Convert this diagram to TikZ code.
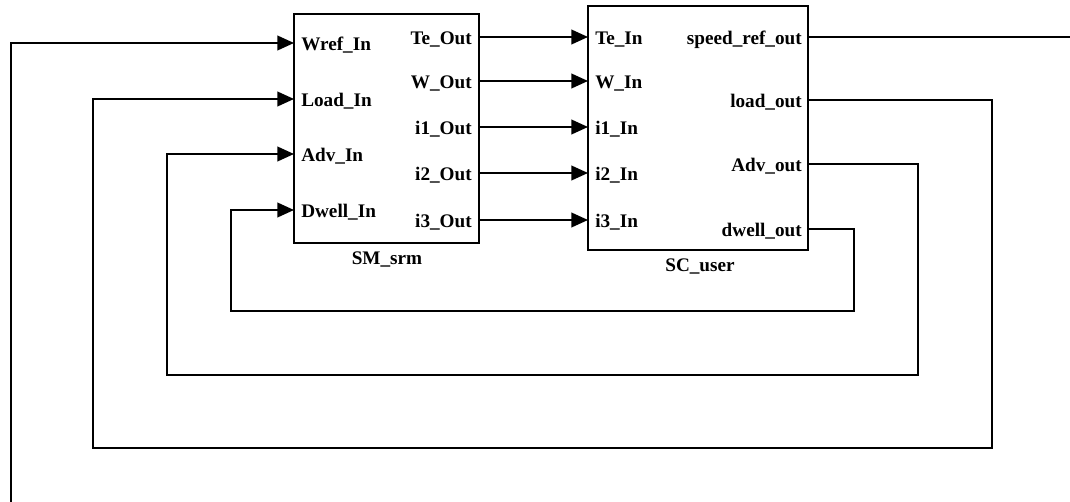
\documentclass[tikz,border=0pt]{standalone}
\usepackage{fontspec}
\setmainfont{Liberation Serif}
\usetikzlibrary{arrows.meta}
\tikzset{
  blk/.style={draw,line width=1.4pt,anchor=north west,inner sep=0pt,outer sep=0pt},
  sig/.style={line width=1.4pt},
  arr/.style={sig,-{Triangle[length=12.5pt,width=11pt]}},
  port/.style={font=\fontsize{14.4}{16}\selectfont\bfseries,inner sep=0pt},
}
\begin{document}
\begin{tikzpicture}[x=.75pt,y=-.75pt]
  \useasboundingbox (0,0) rectangle (1070,502);
  % blocks
  \node[blk,minimum width=138.75pt,minimum height=171.75pt] (sm) at (294,14) {};
  \node[blk,minimum width=165pt,minimum height=183pt] (sc) at (588,6) {};
  \node[port,anchor=base] (smcap) at (387,265) {SM\_srm};
  \node[port,anchor=base] (sccap) at (700,272) {SC\_user};
  % ports
  \foreach \y [count=\i] in {43,99,154,210}
    \coordinate (smi\i) at (294,\y);
  \foreach \y [count=\i] in {37,81,127,173,220} {
    \coordinate (smo\i) at (479,\y);
    \coordinate (sci\i) at (588,\y);
  }
  \foreach \y [count=\i] in {37,100,164,229}
    \coordinate (sco\i) at (808,\y);
  % port labels
  \foreach \t [count=\i] in {Wref\_In,Load\_In,Adv\_In,Dwell\_In}
    \node[port,anchor=base west] (smil\i) at ([shift={(7,8)}]smi\i) {\t};
  \foreach \t [count=\i] in {Te\_Out,W\_Out,i1\_Out,i2\_Out,i3\_Out}
    \node[port,anchor=base east] (smol\i) at ([shift={(-7,8)}]smo\i) {\t};
  \foreach \t [count=\i] in {Te\_In,W\_In,i1\_In,i2\_In,i3\_In}
    \node[port,anchor=base west] (scil\i) at ([shift={(7,8)}]sci\i) {\t};
  \foreach \t [count=\i] in {speed\_ref\_out,load\_out,Adv\_out,dwell\_out}
    \node[port,anchor=base east] (scol\i) at ([shift={(-6,8)}]sco\i) {\t};
  % forward signals
  \foreach \i in {1,...,5}
    \draw[arr] (smo\i) -- (sci\i);
  % feedback
  \coordinate (spdend) at (1070,37);
  \coordinate (wrefsrc) at (11,502);
  \draw[sig] (sco1) -- (spdend);
  \draw[arr] (sco2) -- ++(184,0) |- (93,448) |- (smi2);
  \draw[arr] (sco3) -- ++(110,0) |- (167,375) |- (smi3);
  \draw[arr] (sco4) -- ++(46,0) |- (231,311) |- (smi4);
  \draw[arr] (wrefsrc) |- (smi1);
\end{tikzpicture}
\end{document}
